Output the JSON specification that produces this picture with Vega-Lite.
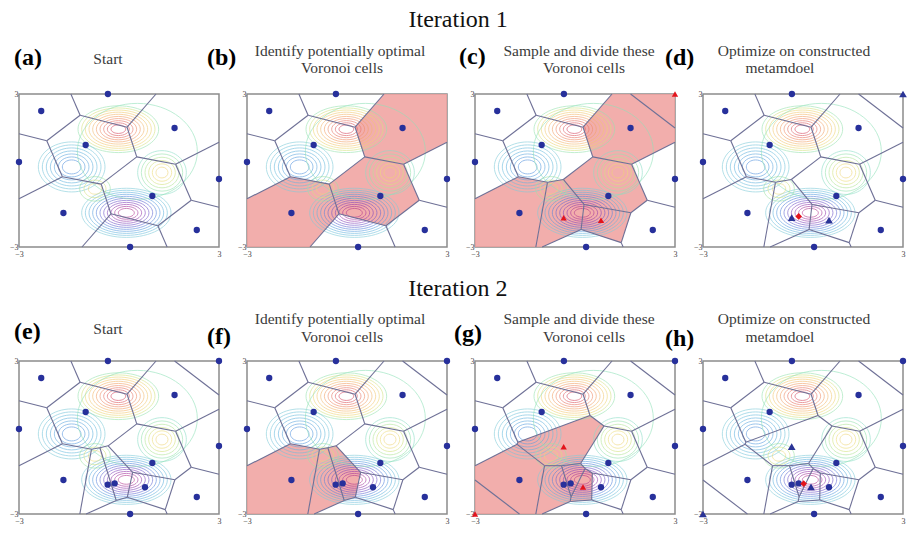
{
"$schema": "https://vega.github.io/schema/vega-lite/v6.json",
"background": "white",
"padding": {"left": 8, "top": 7, "right": 2, "bottom": 2},
"datasets": {
"edges": [
{"s":"0123","x":-1.444,"y":3,"x2":-1.167,"y2":2.167},
{"s":"0123","x":-1.167,"y":2.167,"x2":0.242,"y2":1.697},
{"s":"0123","x":0.242,"y":1.697,"x2":1.111,"y2":3},
{"s":"0123","x":-1.167,"y":2.167,"x2":-2.167,"y2":1.167},
{"s":"0123","x":-2.167,"y":1.167,"x2":-3,"y2":1.444},
{"s":"012","x":-2.167,"y":1.167,"x2":-1.697,"y2":-0.242},
{"s":"012","x":-1.697,"y":-0.242,"x2":-3,"y2":-1.111},
{"s":"0","x":-1.697,"y":-0.242,"x2":-0.533,"y2":-0.533},
{"s":"0","x":-0.533,"y":-0.533,"x2":0.533,"y2":0.533},
{"s":"012","x":0.533,"y":0.533,"x2":0.242,"y2":1.697},
{"s":"012","x":0.533,"y":0.533,"x2":1.697,"y2":0.242},
{"s":"0123","x":1.697,"y":0.242,"x2":3,"y2":1.111},
{"s":"0123","x":1.697,"y":0.242,"x2":2.167,"y2":-1.167},
{"s":"0123","x":2.167,"y":-1.167,"x2":3,"y2":-1.444},
{"s":"0","x":2.167,"y":-1.167,"x2":1.167,"y2":-2.167},
{"s":"0","x":1.167,"y":-2.167,"x2":1.444,"y2":-3},
{"s":"0","x":1.167,"y":-2.167,"x2":-0.242,"y2":-1.697},
{"s":"0","x":-0.242,"y":-1.697,"x2":-1.111,"y2":-3},
{"s":"0","x":-0.242,"y":-1.697,"x2":-0.533,"y2":-0.533},
{"s":"12","x":-1.697,"y":-0.242,"x2":-0.825,"y2":-0.461},
{"s":"1","x":-0.825,"y":-0.461,"x2":-0.351,"y2":-0.351},
{"s":"1","x":-0.351,"y":-0.351,"x2":0.533,"y2":0.533},
{"s":"123","x":2.167,"y":-1.167,"x2":1.676,"y2":-1.657},
{"s":"1","x":1.676,"y":-1.657,"x2":0.271,"y2":-1.332},
{"s":"1","x":0.271,"y":-1.332,"x2":-0.351,"y2":-0.351},
{"s":"1","x":0.271,"y":-1.332,"x2":0.183,"y2":-2.316},
{"s":"1","x":0.183,"y":-2.316,"x2":-0.986,"y2":-3},
{"s":"12","x":-0.825,"y":-0.461,"x2":-1.175,"y2":-3},
{"s":"1","x":0.183,"y":-2.316,"x2":1.387,"y2":-2.829},
{"s":"123","x":1.387,"y":-2.829,"x2":1.676,"y2":-1.657},
{"s":"123","x":1.387,"y":-2.829,"x2":1.444,"y2":-3},
{"s":"123","x":1.667,"y":3,"x2":3,"y2":1.667},
{"s":"2","x":-0.825,"y":-0.461,"x2":-0.574,"y2":-0.403},
{"s":"2","x":-0.574,"y":-0.403,"x2":-0.326,"y2":-0.326},
{"s":"2","x":-0.326,"y":-0.326,"x2":0.533,"y2":0.533},
{"s":"2","x":1.676,"y":-1.657,"x2":0.409,"y2":-1.364},
{"s":"2","x":0.409,"y":-1.364,"x2":-0.326,"y2":-0.326},
{"s":"2","x":0.409,"y":-1.364,"x2":0.248,"y2":-2.344},
{"s":"2","x":0.248,"y":-2.344,"x2":-0.082,"y2":-2.471},
{"s":"2","x":-0.082,"y":-2.471,"x2":-0.574,"y2":-0.403},
{"s":"2","x":-0.082,"y":-2.471,"x2":-0.986,"y2":-3},
{"s":"2","x":0.248,"y":-2.344,"x2":1.387,"y2":-2.829},
{"s":"3","x":-2.167,"y":1.167,"x2":-1.715,"y2":-0.187},
{"s":"3","x":-1.715,"y":-0.187,"x2":-1.737,"y2":-0.269},
{"s":"3","x":-1.737,"y":-0.269,"x2":-3,"y2":-1.111},
{"s":"3","x":-1.715,"y":-0.187,"x2":0.451,"y2":0.864},
{"s":"3","x":0.451,"y":0.864,"x2":0.242,"y2":1.697},
{"s":"3","x":0.451,"y":0.864,"x2":0.870,"y2":0.450},
{"s":"3","x":0.870,"y":0.450,"x2":1.697,"y2":0.242},
{"s":"3","x":1.676,"y":-1.657,"x2":0.520,"y2":-1.390},
{"s":"3","x":0.520,"y":-1.390,"x2":0.303,"y2":-1.214},
{"s":"3","x":0.303,"y":-1.214,"x2":0.167,"y2":-1.021},
{"s":"3","x":0.167,"y":-1.021,"x2":0.870,"y2":0.450},
{"s":"3","x":0.167,"y":-1.021,"x2":-0.407,"y2":-1.105},
{"s":"3","x":-0.407,"y":-1.105,"x2":-0.913,"y2":-1.105},
{"s":"3","x":-0.913,"y":-1.105,"x2":-1.737,"y2":-0.269},
{"s":"3","x":-0.913,"y":-1.105,"x2":-1.175,"y2":-3},
{"s":"3","x":-0.407,"y":-1.105,"x2":-0.117,"y2":-2.324},
{"s":"3","x":-0.117,"y":-2.324,"x2":0.303,"y2":-1.214},
{"s":"3","x":-0.117,"y":-2.324,"x2":-0.145,"y2":-2.508},
{"s":"3","x":-0.145,"y":-2.508,"x2":-0.986,"y2":-3},
{"s":"3","x":-0.145,"y":-2.508,"x2":0.501,"y2":-2.451},
{"s":"3","x":0.501,"y":-2.451,"x2":0.520,"y2":-1.390},
{"s":"3","x":0.501,"y":-2.451,"x2":1.387,"y2":-2.829},
{"s":"3","x":-3,"y":-1.667,"x2":-1.667,"y2":-3}
],
"cells": [
{"p":"b","c":"b1","o":1,"x":1.111,"y":3},{"p":"b","c":"b1","o":2,"x":3,"y":3},{"p":"b","c":"b1","o":3,"x":3,"y":1.111},{"p":"b","c":"b1","o":4,"x":1.697,"y":0.242},{"p":"b","c":"b1","o":5,"x":0.533,"y":0.533},{"p":"b","c":"b1","o":6,"x":0.242,"y":1.697},
{"p":"b","c":"b2","o":1,"x":0.533,"y":0.533},{"p":"b","c":"b2","o":2,"x":1.697,"y":0.242},{"p":"b","c":"b2","o":3,"x":2.167,"y":-1.167},{"p":"b","c":"b2","o":4,"x":1.167,"y":-2.167},{"p":"b","c":"b2","o":5,"x":-0.242,"y":-1.697},{"p":"b","c":"b2","o":6,"x":-0.533,"y":-0.533},
{"p":"b","c":"b3","o":1,"x":-3,"y":-1.111},{"p":"b","c":"b3","o":2,"x":-1.697,"y":-0.242},{"p":"b","c":"b3","o":3,"x":-0.533,"y":-0.533},{"p":"b","c":"b3","o":4,"x":-0.242,"y":-1.697},{"p":"b","c":"b3","o":5,"x":-1.111,"y":-3},{"p":"b","c":"b3","o":6,"x":-3,"y":-3},
{"p":"c","c":"c1","o":1,"x":1.667,"y":3},{"p":"c","c":"c1","o":2,"x":3,"y":3},{"p":"c","c":"c1","o":3,"x":3,"y":1.667},
{"p":"c","c":"c2","o":1,"x":1.111,"y":3},{"p":"c","c":"c2","o":2,"x":1.667,"y":3},{"p":"c","c":"c2","o":3,"x":3,"y":1.667},{"p":"c","c":"c2","o":4,"x":3,"y":1.111},{"p":"c","c":"c2","o":5,"x":1.697,"y":0.242},{"p":"c","c":"c2","o":6,"x":0.533,"y":0.533},{"p":"c","c":"c2","o":7,"x":0.242,"y":1.697},
{"p":"c","c":"c3","o":1,"x":0.533,"y":0.533},{"p":"c","c":"c3","o":2,"x":1.697,"y":0.242},{"p":"c","c":"c3","o":3,"x":2.167,"y":-1.167},{"p":"c","c":"c3","o":4,"x":1.676,"y":-1.657},{"p":"c","c":"c3","o":5,"x":0.271,"y":-1.332},{"p":"c","c":"c3","o":6,"x":-0.351,"y":-0.351},
{"p":"c","c":"c4","o":1,"x":0.271,"y":-1.332},{"p":"c","c":"c4","o":2,"x":1.676,"y":-1.657},{"p":"c","c":"c4","o":3,"x":1.387,"y":-2.829},{"p":"c","c":"c4","o":4,"x":0.183,"y":-2.316},
{"p":"c","c":"c5","o":1,"x":-0.825,"y":-0.461},{"p":"c","c":"c5","o":2,"x":-0.351,"y":-0.351},{"p":"c","c":"c5","o":3,"x":0.271,"y":-1.332},{"p":"c","c":"c5","o":4,"x":0.183,"y":-2.316},{"p":"c","c":"c5","o":5,"x":-0.986,"y":-3},{"p":"c","c":"c5","o":6,"x":-1.175,"y":-3},
{"p":"c","c":"c6","o":1,"x":-3,"y":-1.111},{"p":"c","c":"c6","o":2,"x":-1.697,"y":-0.242},{"p":"c","c":"c6","o":3,"x":-0.825,"y":-0.461},{"p":"c","c":"c6","o":4,"x":-1.175,"y":-3},{"p":"c","c":"c6","o":5,"x":-3,"y":-3},
{"p":"f","c":"f1","o":1,"x":-3,"y":-1.111},{"p":"f","c":"f1","o":2,"x":-1.697,"y":-0.242},{"p":"f","c":"f1","o":3,"x":-0.825,"y":-0.461},{"p":"f","c":"f1","o":4,"x":-1.175,"y":-3},{"p":"f","c":"f1","o":5,"x":-3,"y":-3},
{"p":"f","c":"f2","o":1,"x":-0.825,"y":-0.461},{"p":"f","c":"f2","o":2,"x":-0.574,"y":-0.403},{"p":"f","c":"f2","o":3,"x":-0.082,"y":-2.471},{"p":"f","c":"f2","o":4,"x":-0.986,"y":-3},{"p":"f","c":"f2","o":5,"x":-1.175,"y":-3},
{"p":"f","c":"f3","o":1,"x":-0.574,"y":-0.403},{"p":"f","c":"f3","o":2,"x":-0.326,"y":-0.326},{"p":"f","c":"f3","o":3,"x":0.409,"y":-1.364},{"p":"f","c":"f3","o":4,"x":0.248,"y":-2.344},{"p":"f","c":"f3","o":5,"x":-0.082,"y":-2.471},
{"p":"g","c":"g1","o":1,"x":-3,"y":-3},{"p":"g","c":"g1","o":2,"x":-3,"y":-1.667},{"p":"g","c":"g1","o":3,"x":-1.667,"y":-3},
{"p":"g","c":"g2","o":1,"x":-3,"y":-1.111},{"p":"g","c":"g2","o":2,"x":-1.737,"y":-0.269},{"p":"g","c":"g2","o":3,"x":-0.913,"y":-1.105},{"p":"g","c":"g2","o":4,"x":-1.175,"y":-3},{"p":"g","c":"g2","o":5,"x":-1.667,"y":-3},{"p":"g","c":"g2","o":6,"x":-3,"y":-1.667},
{"p":"g","c":"g3","o":1,"x":0.451,"y":0.864},{"p":"g","c":"g3","o":2,"x":0.870,"y":0.450},{"p":"g","c":"g3","o":3,"x":0.167,"y":-1.021},{"p":"g","c":"g3","o":4,"x":-0.407,"y":-1.105},{"p":"g","c":"g3","o":5,"x":-0.913,"y":-1.105},{"p":"g","c":"g3","o":6,"x":-1.737,"y":-0.269},{"p":"g","c":"g3","o":7,"x":-1.715,"y":-0.187},
{"p":"g","c":"g4","o":1,"x":-0.913,"y":-1.105},{"p":"g","c":"g4","o":2,"x":-0.407,"y":-1.105},{"p":"g","c":"g4","o":3,"x":-0.117,"y":-2.324},{"p":"g","c":"g4","o":4,"x":-0.145,"y":-2.508},{"p":"g","c":"g4","o":5,"x":-0.986,"y":-3},{"p":"g","c":"g4","o":6,"x":-1.175,"y":-3},
{"p":"g","c":"g5","o":1,"x":-0.407,"y":-1.105},{"p":"g","c":"g5","o":2,"x":0.167,"y":-1.021},{"p":"g","c":"g5","o":3,"x":0.303,"y":-1.214},{"p":"g","c":"g5","o":4,"x":-0.117,"y":-2.324},
{"p":"g","c":"g6","o":1,"x":0.303,"y":-1.214},{"p":"g","c":"g6","o":2,"x":0.520,"y":-1.390},{"p":"g","c":"g6","o":3,"x":0.501,"y":-2.451},{"p":"g","c":"g6","o":4,"x":-0.145,"y":-2.508},{"p":"g","c":"g6","o":5,"x":-0.117,"y":-2.324}
],
"pts": [
{"g":"base","x":-0.333,"y":3},{"g":"base","x":-2.333,"y":2.333},{"g":"base","x":1.667,"y":1.667},{"g":"base","x":-1,"y":1},{"g":"base","x":-3,"y":0.333},{"g":"base","x":3,"y":-0.333},{"g":"base","x":1,"y":-1},{"g":"base","x":-1.667,"y":-1.667},{"g":"base","x":2.333,"y":-2.333},{"g":"base","x":0.333,"y":-3},
{"g":"Q","x":3,"y":3},{"g":"Q","x":-0.34,"y":-1.85},{"g":"Q","x":0.78,"y":-1.95},
{"g":"D1","x":-0.13,"y":-1.8},
{"g":"T","x":-3,"y":-3},{"g":"T","x":-0.34,"y":-0.36},{"g":"T","x":0.24,"y":-1.94},
{"g":"D2","x":0.02,"y":-1.81}
],
"rings": [
{"pk":"top","x":-0.02,"y":1.62,"r":0.22,"z":1.0},{"pk":"top","x":-0.02,"y":1.62,"r":0.33,"z":0.92},{"pk":"top","x":-0.02,"y":1.62,"r":0.44,"z":0.82},{"pk":"top","x":-0.02,"y":1.62,"r":0.55,"z":0.72},{"pk":"top","x":-0.02,"y":1.62,"r":0.66,"z":0.62},{"pk":"top","x":-0.02,"y":1.62,"r":0.77,"z":0.52},{"pk":"top","x":-0.02,"y":1.62,"r":0.88,"z":0.42},{"pk":"top","x":-0.02,"y":1.62,"r":0.99,"z":0.32},{"pk":"top","x":-0.02,"y":1.62,"r":1.1,"z":0.22},{"pk":"top","x":-0.02,"y":1.62,"r":1.21,"z":0.12},
{"pk":"left","x":-1.42,"y":0.14,"r":0.28,"z":-0.34},{"pk":"left","x":-1.42,"y":0.14,"r":0.4,"z":-0.3},{"pk":"left","x":-1.42,"y":0.14,"r":0.52,"z":-0.25},{"pk":"left","x":-1.42,"y":0.14,"r":0.64,"z":-0.2},{"pk":"left","x":-1.42,"y":0.14,"r":0.76,"z":-0.15},{"pk":"left","x":-1.42,"y":0.14,"r":0.88,"z":-0.1},{"pk":"left","x":-1.42,"y":0.14,"r":1.0,"z":-0.05},
{"pk":"right","x":1.29,"y":-0.08,"r":0.18,"z":0.32},{"pk":"right","x":1.29,"y":-0.08,"r":0.29,"z":0.27},{"pk":"right","x":1.29,"y":-0.08,"r":0.4,"z":0.22},{"pk":"right","x":1.29,"y":-0.08,"r":0.51,"z":0.17},{"pk":"right","x":1.29,"y":-0.08,"r":0.62,"z":0.12},{"pk":"right","x":1.29,"y":-0.08,"r":0.73,"z":0.07},
{"pk":"bottom","x":0.22,"y":-1.66,"r":0.24,"z":-1.0},{"pk":"bottom","x":0.22,"y":-1.66,"r":0.35,"z":-0.9},{"pk":"bottom","x":0.22,"y":-1.66,"r":0.46,"z":-0.8},{"pk":"bottom","x":0.22,"y":-1.66,"r":0.57,"z":-0.7},{"pk":"bottom","x":0.22,"y":-1.66,"r":0.68,"z":-0.6},{"pk":"bottom","x":0.22,"y":-1.66,"r":0.79,"z":-0.5},{"pk":"bottom","x":0.22,"y":-1.66,"r":0.9,"z":-0.4},{"pk":"bottom","x":0.22,"y":-1.66,"r":1.01,"z":-0.3},{"pk":"bottom","x":0.22,"y":-1.66,"r":1.12,"z":-0.2},{"pk":"bottom","x":0.22,"y":-1.66,"r":1.23,"z":-0.12},{"pk":"bottom","x":0.22,"y":-1.66,"r":1.34,"z":-0.05},
{"pk":"mid","x":-0.72,"y":-0.72,"r":0.2,"z":0.3},{"pk":"mid","x":-0.72,"y":-0.72,"r":0.33,"z":0.22},{"pk":"mid","x":-0.72,"y":-0.72,"r":0.46,"z":0.14},
{"pk":"big","x":0.55,"y":0.75,"r":1.8,"z":0.1}
]
},
"vconcat": [
{
"title": {"text": "Iteration 1", "fontSize": 24, "color": "#111111", "offset": 11},
"bounds": "flush",
"spacing": 28,
"hconcat": [
{
"width": 200, "height": 153,
"encoding": {
"x": {"field": "x", "type": "quantitative", "scale": {"domain": [-3, 3], "nice": false, "zero": false}, "axis": {"values": [-3, 3], "title": null, "labelPadding": 3}},
"y": {"field": "y", "type": "quantitative", "scale": {"domain": [-3, 3], "nice": false, "zero": false}, "axis": {"values": [-3, 3], "title": null}}
},
"layer": [
{"data": {"name": "rings"}, "mark": {"type": "point", "filled": false, "strokeWidth": 0.9, "opacity": 0.65},
 "encoding": {"shape": {"field": "pk", "scale": {"domain": ["top","left","right","bottom","mid","big"], "range": ["M-1,0A1,0.58,0,1,0,1,0A1,0.58,0,1,0,-1,0Z","M-1,0A1,0.75,0,1,0,1,0A1,0.75,0,1,0,-1,0Z","M-1,0A1,0.9,0,1,0,1,0A1,0.9,0,1,0,-1,0Z","M-1,0A1,0.55,0,1,0,1,0A1,0.55,0,1,0,-1,0Z","M-1,0A1,0.8,0,1,0,1,0A1,0.8,0,1,0,-1,0Z","M-1,0A1,0.8,0,1,0,1,0A1,0.8,0,1,0,-1,0Z"]}, "legend": null},
  "size": {"field": "r", "type": "quantitative", "scale": {"type": "pow", "exponent": 2, "domain": [0, 1], "range": [0, 4444]}, "legend": null},
  "color": {"field": "z", "type": "quantitative", "scale": {"domain": [-1,-0.75,-0.5,-0.25,0,0.25,0.5,0.75,1], "range": ["#b0308c","#8a3cb4","#5f66d2","#62a9e0","#8fd4d8","#ece07a","#f4bd6e","#ee8468","#d43c58"]}, "legend": null}}},
{"data": {"name": "edges"}, "transform": [{"filter": "indexof(datum.s, '0') >= 0"}], "mark": {"type": "rule", "color": "#6e7096", "strokeWidth": 1.1}, "encoding": {"x2": {"field": "x2"}, "y2": {"field": "y2"}}},
{"data": {"name": "pts"}, "transform": [{"filter": "datum.g == 'base'"}], "mark": {"type": "point", "filled": true, "shape": "circle", "color": "#27309b", "size": 40, "opacity": 1}},
{"data": {"values": [{"x": -0.33, "y": 4.38, "t": "Start"}]}, "mark": {"type": "text", "font": "Liberation Serif", "fontSize": 15.5, "align": "center", "baseline": "middle", "color": "#3a3a3a"}, "encoding": {"text": {"field": "t"}}},
{"data": {"values": [{"x": -3.15, "y": 4.41, "t": "(a)"}]}, "mark": {"type": "text", "font": "Liberation Serif", "fontWeight": "bold", "fontSize": 24, "align": "left", "baseline": "middle", "color": "#000000"}, "encoding": {"text": {"field": "t"}}}
]
},
{
"width": 200, "height": 153,
"encoding": {
"x": {"field": "x", "type": "quantitative", "scale": {"domain": [-3, 3], "nice": false, "zero": false}, "axis": {"values": [-3, 3], "title": null, "labelPadding": 3}},
"y": {"field": "y", "type": "quantitative", "scale": {"domain": [-3, 3], "nice": false, "zero": false}, "axis": {"values": [-3, 3], "title": null}}
},
"layer": [
{"data": {"name": "cells"}, "transform": [{"filter": "datum.p == 'b'"}], "mark": {"type": "line", "interpolate": "linear-closed", "fill": "#f0a09e", "fillOpacity": 0.85, "strokeOpacity": 0}, "encoding": {"detail": {"field": "c"}, "order": {"field": "o"}}},
{"data": {"name": "rings"}, "mark": {"type": "point", "filled": false, "strokeWidth": 0.9, "opacity": 0.65},
 "encoding": {"shape": {"field": "pk", "scale": {"domain": ["top","left","right","bottom","mid","big"], "range": ["M-1,0A1,0.58,0,1,0,1,0A1,0.58,0,1,0,-1,0Z","M-1,0A1,0.75,0,1,0,1,0A1,0.75,0,1,0,-1,0Z","M-1,0A1,0.9,0,1,0,1,0A1,0.9,0,1,0,-1,0Z","M-1,0A1,0.55,0,1,0,1,0A1,0.55,0,1,0,-1,0Z","M-1,0A1,0.8,0,1,0,1,0A1,0.8,0,1,0,-1,0Z","M-1,0A1,0.8,0,1,0,1,0A1,0.8,0,1,0,-1,0Z"]}, "legend": null},
  "size": {"field": "r", "type": "quantitative", "scale": {"type": "pow", "exponent": 2, "domain": [0, 1], "range": [0, 4444]}, "legend": null},
  "color": {"field": "z", "type": "quantitative", "scale": {"domain": [-1,-0.75,-0.5,-0.25,0,0.25,0.5,0.75,1], "range": ["#b0308c","#8a3cb4","#5f66d2","#62a9e0","#8fd4d8","#ece07a","#f4bd6e","#ee8468","#d43c58"]}, "legend": null}}},
{"data": {"name": "edges"}, "transform": [{"filter": "indexof(datum.s, '0') >= 0"}], "mark": {"type": "rule", "color": "#6e7096", "strokeWidth": 1.1}, "encoding": {"x2": {"field": "x2"}, "y2": {"field": "y2"}}},
{"data": {"name": "pts"}, "transform": [{"filter": "datum.g == 'base'"}], "mark": {"type": "point", "filled": true, "shape": "circle", "color": "#27309b", "size": 40, "opacity": 1}},
{"data": {"values": [{"x": -0.21, "y": 4.7, "t": "Identify potentially optimal"}, {"x": -0.15, "y": 4.02, "t": "Voronoi cells"}]}, "mark": {"type": "text", "font": "Liberation Serif", "fontSize": 15.5, "align": "center", "baseline": "middle", "color": "#3a3a3a"}, "encoding": {"text": {"field": "t"}}},
{"data": {"values": [{"x": -4.2, "y": 4.41, "t": "(b)"}]}, "mark": {"type": "text", "font": "Liberation Serif", "fontWeight": "bold", "fontSize": 24, "align": "left", "baseline": "middle", "color": "#000000"}, "encoding": {"text": {"field": "t"}}}
]
},
{
"width": 200, "height": 153,
"encoding": {
"x": {"field": "x", "type": "quantitative", "scale": {"domain": [-3, 3], "nice": false, "zero": false}, "axis": {"values": [-3, 3], "title": null, "labelPadding": 3}},
"y": {"field": "y", "type": "quantitative", "scale": {"domain": [-3, 3], "nice": false, "zero": false}, "axis": {"values": [-3, 3], "title": null}}
},
"layer": [
{"data": {"name": "cells"}, "transform": [{"filter": "datum.p == 'c'"}], "mark": {"type": "line", "interpolate": "linear-closed", "fill": "#f0a09e", "fillOpacity": 0.85, "strokeOpacity": 0}, "encoding": {"detail": {"field": "c"}, "order": {"field": "o"}}},
{"data": {"name": "rings"}, "mark": {"type": "point", "filled": false, "strokeWidth": 0.9, "opacity": 0.65},
 "encoding": {"shape": {"field": "pk", "scale": {"domain": ["top","left","right","bottom","mid","big"], "range": ["M-1,0A1,0.58,0,1,0,1,0A1,0.58,0,1,0,-1,0Z","M-1,0A1,0.75,0,1,0,1,0A1,0.75,0,1,0,-1,0Z","M-1,0A1,0.9,0,1,0,1,0A1,0.9,0,1,0,-1,0Z","M-1,0A1,0.55,0,1,0,1,0A1,0.55,0,1,0,-1,0Z","M-1,0A1,0.8,0,1,0,1,0A1,0.8,0,1,0,-1,0Z","M-1,0A1,0.8,0,1,0,1,0A1,0.8,0,1,0,-1,0Z"]}, "legend": null},
  "size": {"field": "r", "type": "quantitative", "scale": {"type": "pow", "exponent": 2, "domain": [0, 1], "range": [0, 4444]}, "legend": null},
  "color": {"field": "z", "type": "quantitative", "scale": {"domain": [-1,-0.75,-0.5,-0.25,0,0.25,0.5,0.75,1], "range": ["#b0308c","#8a3cb4","#5f66d2","#62a9e0","#8fd4d8","#ece07a","#f4bd6e","#ee8468","#d43c58"]}, "legend": null}}},
{"data": {"name": "edges"}, "transform": [{"filter": "indexof(datum.s, '1') >= 0"}], "mark": {"type": "rule", "color": "#6e7096", "strokeWidth": 1.1}, "encoding": {"x2": {"field": "x2"}, "y2": {"field": "y2"}}},
{"data": {"name": "pts"}, "transform": [{"filter": "datum.g == 'base'"}], "mark": {"type": "point", "filled": true, "shape": "circle", "color": "#27309b", "size": 40, "opacity": 1}},
{"data": {"name": "pts"}, "transform": [{"filter": "datum.g == 'Q'"}], "mark": {"type": "point", "filled": true, "shape": "triangle-up", "color": "#e3141c", "size": 40, "opacity": 1}},
{"data": {"values": [{"x": 0.12, "y": 4.7, "t": "Sample and divide these"}, {"x": 0.27, "y": 4.02, "t": "Voronoi cells"}]}, "mark": {"type": "text", "font": "Liberation Serif", "fontSize": 15.5, "align": "center", "baseline": "middle", "color": "#3a3a3a"}, "encoding": {"text": {"field": "t"}}},
{"data": {"values": [{"x": -3.48, "y": 4.45, "t": "(c)"}]}, "mark": {"type": "text", "font": "Liberation Serif", "fontWeight": "bold", "fontSize": 24, "align": "left", "baseline": "middle", "color": "#000000"}, "encoding": {"text": {"field": "t"}}}
]
},
{
"width": 200, "height": 153,
"encoding": {
"x": {"field": "x", "type": "quantitative", "scale": {"domain": [-3, 3], "nice": false, "zero": false}, "axis": {"values": [-3, 3], "title": null, "labelPadding": 3}},
"y": {"field": "y", "type": "quantitative", "scale": {"domain": [-3, 3], "nice": false, "zero": false}, "axis": {"values": [-3, 3], "title": null}}
},
"layer": [
{"data": {"name": "rings"}, "mark": {"type": "point", "filled": false, "strokeWidth": 0.9, "opacity": 0.65},
 "encoding": {"shape": {"field": "pk", "scale": {"domain": ["top","left","right","bottom","mid","big"], "range": ["M-1,0A1,0.58,0,1,0,1,0A1,0.58,0,1,0,-1,0Z","M-1,0A1,0.75,0,1,0,1,0A1,0.75,0,1,0,-1,0Z","M-1,0A1,0.9,0,1,0,1,0A1,0.9,0,1,0,-1,0Z","M-1,0A1,0.55,0,1,0,1,0A1,0.55,0,1,0,-1,0Z","M-1,0A1,0.8,0,1,0,1,0A1,0.8,0,1,0,-1,0Z","M-1,0A1,0.8,0,1,0,1,0A1,0.8,0,1,0,-1,0Z"]}, "legend": null},
  "size": {"field": "r", "type": "quantitative", "scale": {"type": "pow", "exponent": 2, "domain": [0, 1], "range": [0, 4444]}, "legend": null},
  "color": {"field": "z", "type": "quantitative", "scale": {"domain": [-1,-0.75,-0.5,-0.25,0,0.25,0.5,0.75,1], "range": ["#b0308c","#8a3cb4","#5f66d2","#62a9e0","#8fd4d8","#ece07a","#f4bd6e","#ee8468","#d43c58"]}, "legend": null}}},
{"data": {"name": "edges"}, "transform": [{"filter": "indexof(datum.s, '1') >= 0"}], "mark": {"type": "rule", "color": "#6e7096", "strokeWidth": 1.1}, "encoding": {"x2": {"field": "x2"}, "y2": {"field": "y2"}}},
{"data": {"name": "pts"}, "transform": [{"filter": "datum.g == 'base'"}], "mark": {"type": "point", "filled": true, "shape": "circle", "color": "#27309b", "size": 40, "opacity": 1}},
{"data": {"name": "pts"}, "transform": [{"filter": "datum.g == 'Q'"}], "mark": {"type": "point", "filled": true, "shape": "triangle-up", "color": "#2a3496", "size": 60, "opacity": 1}},
{"data": {"name": "pts"}, "transform": [{"filter": "datum.g == 'D1'"}], "mark": {"type": "point", "filled": true, "shape": "diamond", "color": "#e3141c", "size": 45, "opacity": 1}},
{"data": {"values": [{"x": -0.27, "y": 4.7, "t": "Optimize on constructed"}, {"x": -0.69, "y": 4.02, "t": "metamdoel"}]}, "mark": {"type": "text", "font": "Liberation Serif", "fontSize": 15.5, "align": "center", "baseline": "middle", "color": "#3a3a3a"}, "encoding": {"text": {"field": "t"}}},
{"data": {"values": [{"x": -4.14, "y": 4.41, "t": "(d)"}]}, "mark": {"type": "text", "font": "Liberation Serif", "fontWeight": "bold", "fontSize": 24, "align": "left", "baseline": "middle", "color": "#000000"}, "encoding": {"text": {"field": "t"}}}
]
}
]
},
{
"title": {"text": "Iteration 2", "fontSize": 24, "color": "#111111", "offset": 10},
"bounds": "flush",
"spacing": 28,
"hconcat": [
{
"width": 200, "height": 153,
"encoding": {
"x": {"field": "x", "type": "quantitative", "scale": {"domain": [-3, 3], "nice": false, "zero": false}, "axis": {"values": [-3, 3], "title": null, "labelPadding": 3}},
"y": {"field": "y", "type": "quantitative", "scale": {"domain": [-3, 3], "nice": false, "zero": false}, "axis": {"values": [-3, 3], "title": null}}
},
"layer": [
{"data": {"name": "rings"}, "mark": {"type": "point", "filled": false, "strokeWidth": 0.9, "opacity": 0.65},
 "encoding": {"shape": {"field": "pk", "scale": {"domain": ["top","left","right","bottom","mid","big"], "range": ["M-1,0A1,0.58,0,1,0,1,0A1,0.58,0,1,0,-1,0Z","M-1,0A1,0.75,0,1,0,1,0A1,0.75,0,1,0,-1,0Z","M-1,0A1,0.9,0,1,0,1,0A1,0.9,0,1,0,-1,0Z","M-1,0A1,0.55,0,1,0,1,0A1,0.55,0,1,0,-1,0Z","M-1,0A1,0.8,0,1,0,1,0A1,0.8,0,1,0,-1,0Z","M-1,0A1,0.8,0,1,0,1,0A1,0.8,0,1,0,-1,0Z"]}, "legend": null},
  "size": {"field": "r", "type": "quantitative", "scale": {"type": "pow", "exponent": 2, "domain": [0, 1], "range": [0, 4444]}, "legend": null},
  "color": {"field": "z", "type": "quantitative", "scale": {"domain": [-1,-0.75,-0.5,-0.25,0,0.25,0.5,0.75,1], "range": ["#b0308c","#8a3cb4","#5f66d2","#62a9e0","#8fd4d8","#ece07a","#f4bd6e","#ee8468","#d43c58"]}, "legend": null}}},
{"data": {"name": "edges"}, "transform": [{"filter": "indexof(datum.s, '2') >= 0"}], "mark": {"type": "rule", "color": "#6e7096", "strokeWidth": 1.1}, "encoding": {"x2": {"field": "x2"}, "y2": {"field": "y2"}}},
{"data": {"name": "pts"}, "transform": [{"filter": "datum.g == 'base' || datum.g == 'Q' || datum.g == 'D1'"}], "mark": {"type": "point", "filled": true, "shape": "circle", "color": "#27309b", "size": 40, "opacity": 1}},
{"data": {"values": [{"x": -0.33, "y": 4.25, "t": "Start"}]}, "mark": {"type": "text", "font": "Liberation Serif", "fontSize": 15.5, "align": "center", "baseline": "middle", "color": "#3a3a3a"}, "encoding": {"text": {"field": "t"}}},
{"data": {"values": [{"x": -3.15, "y": 4.14, "t": "(e)"}]}, "mark": {"type": "text", "font": "Liberation Serif", "fontWeight": "bold", "fontSize": 24, "align": "left", "baseline": "middle", "color": "#000000"}, "encoding": {"text": {"field": "t"}}}
]
},
{
"width": 200, "height": 153,
"encoding": {
"x": {"field": "x", "type": "quantitative", "scale": {"domain": [-3, 3], "nice": false, "zero": false}, "axis": {"values": [-3, 3], "title": null, "labelPadding": 3}},
"y": {"field": "y", "type": "quantitative", "scale": {"domain": [-3, 3], "nice": false, "zero": false}, "axis": {"values": [-3, 3], "title": null}}
},
"layer": [
{"data": {"name": "cells"}, "transform": [{"filter": "datum.p == 'f'"}], "mark": {"type": "line", "interpolate": "linear-closed", "fill": "#f0a09e", "fillOpacity": 0.85, "strokeOpacity": 0}, "encoding": {"detail": {"field": "c"}, "order": {"field": "o"}}},
{"data": {"name": "rings"}, "mark": {"type": "point", "filled": false, "strokeWidth": 0.9, "opacity": 0.65},
 "encoding": {"shape": {"field": "pk", "scale": {"domain": ["top","left","right","bottom","mid","big"], "range": ["M-1,0A1,0.58,0,1,0,1,0A1,0.58,0,1,0,-1,0Z","M-1,0A1,0.75,0,1,0,1,0A1,0.75,0,1,0,-1,0Z","M-1,0A1,0.9,0,1,0,1,0A1,0.9,0,1,0,-1,0Z","M-1,0A1,0.55,0,1,0,1,0A1,0.55,0,1,0,-1,0Z","M-1,0A1,0.8,0,1,0,1,0A1,0.8,0,1,0,-1,0Z","M-1,0A1,0.8,0,1,0,1,0A1,0.8,0,1,0,-1,0Z"]}, "legend": null},
  "size": {"field": "r", "type": "quantitative", "scale": {"type": "pow", "exponent": 2, "domain": [0, 1], "range": [0, 4444]}, "legend": null},
  "color": {"field": "z", "type": "quantitative", "scale": {"domain": [-1,-0.75,-0.5,-0.25,0,0.25,0.5,0.75,1], "range": ["#b0308c","#8a3cb4","#5f66d2","#62a9e0","#8fd4d8","#ece07a","#f4bd6e","#ee8468","#d43c58"]}, "legend": null}}},
{"data": {"name": "edges"}, "transform": [{"filter": "indexof(datum.s, '2') >= 0"}], "mark": {"type": "rule", "color": "#6e7096", "strokeWidth": 1.1}, "encoding": {"x2": {"field": "x2"}, "y2": {"field": "y2"}}},
{"data": {"name": "pts"}, "transform": [{"filter": "datum.g == 'base' || datum.g == 'Q' || datum.g == 'D1'"}], "mark": {"type": "point", "filled": true, "shape": "circle", "color": "#27309b", "size": 40, "opacity": 1}},
{"data": {"values": [{"x": -0.21, "y": 4.66, "t": "Identify potentially optimal"}, {"x": -0.15, "y": 3.96, "t": "Voronoi cells"}]}, "mark": {"type": "text", "font": "Liberation Serif", "fontSize": 15.5, "align": "center", "baseline": "middle", "color": "#3a3a3a"}, "encoding": {"text": {"field": "t"}}},
{"data": {"values": [{"x": -4.2, "y": 3.94, "t": "(f)"}]}, "mark": {"type": "text", "font": "Liberation Serif", "fontWeight": "bold", "fontSize": 24, "align": "left", "baseline": "middle", "color": "#000000"}, "encoding": {"text": {"field": "t"}}}
]
},
{
"width": 200, "height": 153,
"encoding": {
"x": {"field": "x", "type": "quantitative", "scale": {"domain": [-3, 3], "nice": false, "zero": false}, "axis": {"values": [-3, 3], "title": null, "labelPadding": 3}},
"y": {"field": "y", "type": "quantitative", "scale": {"domain": [-3, 3], "nice": false, "zero": false}, "axis": {"values": [-3, 3], "title": null}}
},
"layer": [
{"data": {"name": "cells"}, "transform": [{"filter": "datum.p == 'g'"}], "mark": {"type": "line", "interpolate": "linear-closed", "fill": "#f0a09e", "fillOpacity": 0.85, "strokeOpacity": 0}, "encoding": {"detail": {"field": "c"}, "order": {"field": "o"}}},
{"data": {"name": "rings"}, "mark": {"type": "point", "filled": false, "strokeWidth": 0.9, "opacity": 0.65},
 "encoding": {"shape": {"field": "pk", "scale": {"domain": ["top","left","right","bottom","mid","big"], "range": ["M-1,0A1,0.58,0,1,0,1,0A1,0.58,0,1,0,-1,0Z","M-1,0A1,0.75,0,1,0,1,0A1,0.75,0,1,0,-1,0Z","M-1,0A1,0.9,0,1,0,1,0A1,0.9,0,1,0,-1,0Z","M-1,0A1,0.55,0,1,0,1,0A1,0.55,0,1,0,-1,0Z","M-1,0A1,0.8,0,1,0,1,0A1,0.8,0,1,0,-1,0Z","M-1,0A1,0.8,0,1,0,1,0A1,0.8,0,1,0,-1,0Z"]}, "legend": null},
  "size": {"field": "r", "type": "quantitative", "scale": {"type": "pow", "exponent": 2, "domain": [0, 1], "range": [0, 4444]}, "legend": null},
  "color": {"field": "z", "type": "quantitative", "scale": {"domain": [-1,-0.75,-0.5,-0.25,0,0.25,0.5,0.75,1], "range": ["#b0308c","#8a3cb4","#5f66d2","#62a9e0","#8fd4d8","#ece07a","#f4bd6e","#ee8468","#d43c58"]}, "legend": null}}},
{"data": {"name": "edges"}, "transform": [{"filter": "indexof(datum.s, '3') >= 0"}], "mark": {"type": "rule", "color": "#6e7096", "strokeWidth": 1.1}, "encoding": {"x2": {"field": "x2"}, "y2": {"field": "y2"}}},
{"data": {"name": "pts"}, "transform": [{"filter": "datum.g == 'base' || datum.g == 'Q' || datum.g == 'D1'"}], "mark": {"type": "point", "filled": true, "shape": "circle", "color": "#27309b", "size": 40, "opacity": 1}},
{"data": {"name": "pts"}, "transform": [{"filter": "datum.g == 'T'"}], "mark": {"type": "point", "filled": true, "shape": "triangle-up", "color": "#e3141c", "size": 40, "opacity": 1}},
{"data": {"values": [{"x": 0.12, "y": 4.66, "t": "Sample and divide these"}, {"x": 0.27, "y": 3.96, "t": "Voronoi cells"}]}, "mark": {"type": "text", "font": "Liberation Serif", "fontSize": 15.5, "align": "center", "baseline": "middle", "color": "#3a3a3a"}, "encoding": {"text": {"field": "t"}}},
{"data": {"values": [{"x": -3.63, "y": 4.06, "t": "(g)"}]}, "mark": {"type": "text", "font": "Liberation Serif", "fontWeight": "bold", "fontSize": 24, "align": "left", "baseline": "middle", "color": "#000000"}, "encoding": {"text": {"field": "t"}}}
]
},
{
"width": 200, "height": 153,
"encoding": {
"x": {"field": "x", "type": "quantitative", "scale": {"domain": [-3, 3], "nice": false, "zero": false}, "axis": {"values": [-3, 3], "title": null, "labelPadding": 3}},
"y": {"field": "y", "type": "quantitative", "scale": {"domain": [-3, 3], "nice": false, "zero": false}, "axis": {"values": [-3, 3], "title": null}}
},
"layer": [
{"data": {"name": "rings"}, "mark": {"type": "point", "filled": false, "strokeWidth": 0.9, "opacity": 0.65},
 "encoding": {"shape": {"field": "pk", "scale": {"domain": ["top","left","right","bottom","mid","big"], "range": ["M-1,0A1,0.58,0,1,0,1,0A1,0.58,0,1,0,-1,0Z","M-1,0A1,0.75,0,1,0,1,0A1,0.75,0,1,0,-1,0Z","M-1,0A1,0.9,0,1,0,1,0A1,0.9,0,1,0,-1,0Z","M-1,0A1,0.55,0,1,0,1,0A1,0.55,0,1,0,-1,0Z","M-1,0A1,0.8,0,1,0,1,0A1,0.8,0,1,0,-1,0Z","M-1,0A1,0.8,0,1,0,1,0A1,0.8,0,1,0,-1,0Z"]}, "legend": null},
  "size": {"field": "r", "type": "quantitative", "scale": {"type": "pow", "exponent": 2, "domain": [0, 1], "range": [0, 4444]}, "legend": null},
  "color": {"field": "z", "type": "quantitative", "scale": {"domain": [-1,-0.75,-0.5,-0.25,0,0.25,0.5,0.75,1], "range": ["#b0308c","#8a3cb4","#5f66d2","#62a9e0","#8fd4d8","#ece07a","#f4bd6e","#ee8468","#d43c58"]}, "legend": null}}},
{"data": {"name": "edges"}, "transform": [{"filter": "indexof(datum.s, '3') >= 0"}], "mark": {"type": "rule", "color": "#6e7096", "strokeWidth": 1.1}, "encoding": {"x2": {"field": "x2"}, "y2": {"field": "y2"}}},
{"data": {"name": "pts"}, "transform": [{"filter": "datum.g == 'base' || datum.g == 'Q' || datum.g == 'D1'"}], "mark": {"type": "point", "filled": true, "shape": "circle", "color": "#27309b", "size": 40, "opacity": 1}},
{"data": {"name": "pts"}, "transform": [{"filter": "datum.g == 'T'"}], "mark": {"type": "point", "filled": true, "shape": "triangle-up", "color": "#2a3496", "size": 60, "opacity": 1}},
{"data": {"name": "pts"}, "transform": [{"filter": "datum.g == 'D2'"}], "mark": {"type": "point", "filled": true, "shape": "diamond", "color": "#e3141c", "size": 45, "opacity": 1}},
{"data": {"values": [{"x": -0.27, "y": 4.66, "t": "Optimize on constructed"}, {"x": -0.69, "y": 3.96, "t": "metamdoel"}]}, "mark": {"type": "text", "font": "Liberation Serif", "fontSize": 15.5, "align": "center", "baseline": "middle", "color": "#3a3a3a"}, "encoding": {"text": {"field": "t"}}},
{"data": {"values": [{"x": -4.14, "y": 3.86, "t": "(h)"}]}, "mark": {"type": "text", "font": "Liberation Serif", "fontWeight": "bold", "fontSize": 24, "align": "left", "baseline": "middle", "color": "#000000"}, "encoding": {"text": {"field": "t"}}}
]
}
]
}
],
"spacing": 17,
"config": {
"view": {"stroke": "#8c8c8c", "strokeWidth": 1.5},
"axis": {"ticks": false, "domain": false, "grid": false, "labelFont": "Liberation Serif", "labelFontSize": 8, "labelColor": "#444444", "labelPadding": 1, "labelFlush": false},
"title": {"font": "Liberation Serif", "fontSize": 15, "fontWeight": "normal", "color": "#3a3a3a", "anchor": "middle", "baseline": "bottom"}
}
}
